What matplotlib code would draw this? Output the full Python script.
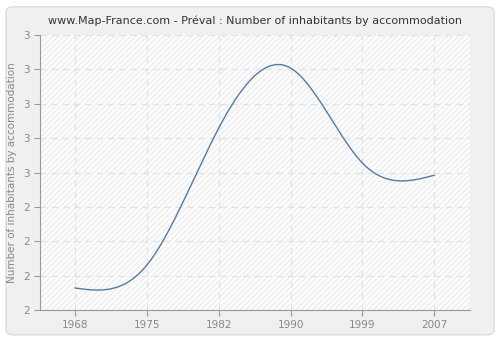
import numpy as np
import matplotlib.pyplot as plt
from matplotlib.patches import FancyBboxPatch, Rectangle
from matplotlib.ticker import FixedLocator

# Data
years = ['1968', '1975', '1982', '1990', '1999', '2007']
values = [2.08, 2.164, 2.662, 2.88, 2.535, 2.49]
y_ticks = [2.0, 2.125, 2.25, 2.375, 2.5, 2.625, 2.75, 2.875, 3.0]
y_labels = ['2', '2', '2', '2', '3', '3', '3', '3', '3']


def natural_spline(x, y, n=400):
    # natural cubic spline for drawing the smooth curve
    x = np.asarray(x, float)
    y = np.asarray(y, float)
    k = len(x)
    h = np.diff(x)
    A = np.zeros((k, k))
    b = np.zeros(k)
    A[0, 0] = A[-1, -1] = 1
    for i in range(1, k - 1):
        A[i, i - 1] = h[i - 1]
        A[i, i] = 2 * (h[i - 1] + h[i])
        A[i, i + 1] = h[i]
        b[i] = 3 * ((y[i + 1] - y[i]) / h[i] - (y[i] - y[i - 1]) / h[i - 1])
    c = np.linalg.solve(A, b)
    xs = np.linspace(x[0], x[-1], n)
    idx = np.clip(np.searchsorted(x, xs) - 1, 0, k - 2)
    dx = xs - x[idx]
    bb = (y[idx + 1] - y[idx]) / h[idx] - h[idx] * (2 * c[idx] + c[idx + 1]) / 3
    d = (c[idx + 1] - c[idx]) / (3 * h[idx])
    ys = y[idx] + bb * dx + c[idx] * dx ** 2 + d * dx ** 3
    return xs, ys


fig = plt.figure(figsize=(5, 3.4), dpi=100)
fig.patch.set_facecolor('white')
fig.patches.append(FancyBboxPatch((0.012, 0.015), 0.976, 0.965,
                                  boxstyle='round,pad=0,rounding_size=0.015',
                                  transform=fig.transFigure, facecolor='#f0f0f0',
                                  edgecolor='#dcdcdc', linewidth=1, zorder=-10))

ax = fig.add_axes([0.08, 0.088, 0.86, 0.809])
ax.set_facecolor('white')
ax.add_patch(Rectangle((0, 0), 1, 1, transform=ax.transAxes, facecolor='#fdfdfd',
                       edgecolor='#eeeeee', hatch='//////', linewidth=0, zorder=0))

x = np.arange(len(years))
xs, ys = natural_spline(x, values)
ax.plot(xs, ys, color='#4f7cac', linewidth=1, zorder=3)

ax.set_xlim(-0.49, 5.5)
ax.set_ylim(2.0, 3.0)
ax.set_xticks(x)
ax.set_xticklabels(years)
ax.yaxis.set_major_locator(FixedLocator(y_ticks))
ax.set_yticklabels(y_labels)

ax.grid(True, color='#e2e2e2', linestyle=(0, (5, 4)), linewidth=0.9)
for s in ['top', 'right']:
    ax.spines[s].set_visible(False)
for s in ['left', 'bottom']:
    ax.spines[s].set_color('#999999')
ax.tick_params(colors='#999999', labelcolor='#888888', labelsize=7.5, length=4)

ax.set_ylabel('Number of inhabitants by accommodation', fontsize=7.5, color='#888888')
ax.set_title('www.Map-France.com - Préval : Number of inhabitants by accommodation',
             fontsize=8, color='#333333', pad=8)

fig.savefig('out.png', dpi=100, facecolor=fig.get_facecolor())
